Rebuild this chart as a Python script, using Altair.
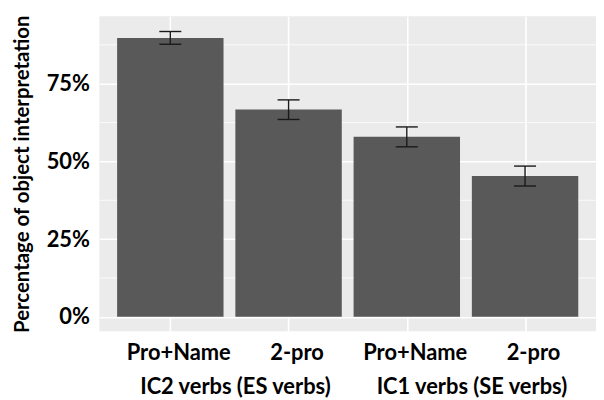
import altair as alt
import pandas as pd

conditions = ["Pro+Name", "2-pro", "Pro+Name", "2-pro"]
groups = ["IC2 verbs (ES verbs)", "IC2 verbs (ES verbs)", "IC1 verbs (SE verbs)", "IC1 verbs (SE verbs)"]
positions = [1, 2, 3, 4]
values = [0.897, 0.667, 0.579, 0.453]
err_low = [0.877, 0.635, 0.547, 0.421]
err_high = [0.918, 0.698, 0.611, 0.485]
y_ticks = [0, 0.25, 0.5, 0.75]
minor_ticks = [0.125, 0.375, 0.625, 0.875]

df = pd.DataFrame({
    "cond": conditions, "group": groups, "pos": positions,
    "value": values, "lo": err_low, "hi": err_high,
})
df["left"] = df["pos"] - 0.45
df["right"] = df["pos"] + 0.45
df["capl"] = df["pos"] - 0.093
df["capr"] = df["pos"] + 0.093

gdf = df.groupby("group", sort=False)["pos"].mean().reset_index()
minor_df = pd.DataFrame({"m": minor_ticks})

FONT = "Lato"
label_expr = "[" + ",".join('"%s"' % c for c in conditions) + "][datum.value-1]"

xs = alt.Scale(domain=[0.4, 4.6], nice=False, zero=False)
ys = alt.Scale(domain=[-0.046, 0.967], nice=False, zero=False)

x_axis = alt.Axis(values=positions, labelExpr=label_expr, title=None, grid=True,
                  gridColor="white", gridWidth=1.6, ticks=False, domain=False,
                  labelFont=FONT, labelFontWeight="bold", labelFontSize=22,
                  labelColor="black", labelPadding=12, labelOffset=8)
y_axis = alt.Axis(values=y_ticks, format="%", title="Percentage of object interpretation",
                  grid=True, gridColor="white", gridWidth=1.6, ticks=False, domain=False,
                  labelFont=FONT, labelFontWeight="bold", labelFontSize=22,
                  labelColor="black", labelPadding=10,
                  titleFont=FONT, titleFontWeight="bold", titleFontSize=20.5,
                  titleColor="black", titlePadding=14)

minor = alt.Chart(minor_df).mark_rule(color="white", strokeWidth=0.8).encode(
    y=alt.Y("m:Q", scale=ys, axis=y_axis)
)

bars = alt.Chart(df).mark_rect(color="#595959").encode(
    x=alt.X("left:Q", scale=xs, axis=x_axis),
    x2="right:Q",
    y=alt.Y("value:Q", scale=ys),
    y2=alt.datum(0),
)

stems = alt.Chart(df).mark_rule(color="#1a1a1a", strokeWidth=1.4).encode(
    x=alt.X("pos:Q", scale=xs), y=alt.Y("lo:Q", scale=ys), y2="hi:Q"
)
cap_lo = alt.Chart(df).mark_rule(color="#1a1a1a", strokeWidth=1.4).encode(
    x=alt.X("capl:Q", scale=xs), x2="capr:Q", y=alt.Y("lo:Q", scale=ys)
)
cap_hi = alt.Chart(df).mark_rule(color="#1a1a1a", strokeWidth=1.4).encode(
    x=alt.X("capl:Q", scale=xs), x2="capr:Q", y=alt.Y("hi:Q", scale=ys)
)

glabels = alt.Chart(gdf).mark_text(font=FONT, fontWeight="bold", fontSize=22, dx=6,
                                   color="black", baseline="middle", align="center").encode(
    x=alt.X("pos:Q", scale=xs), y=alt.value(373), text="group:N"
)

chart = alt.layer(minor, bars, stems, cap_lo, cap_hi, glabels).properties(
    width=500, height=317, autosize="none",
    padding={"left": 92, "top": 7, "right": 0, "bottom": 68},
).configure_view(fill="#EBEBEB", stroke=None)

chart.save("out.html", embed_options={"renderer": "svg", "actions": False})
